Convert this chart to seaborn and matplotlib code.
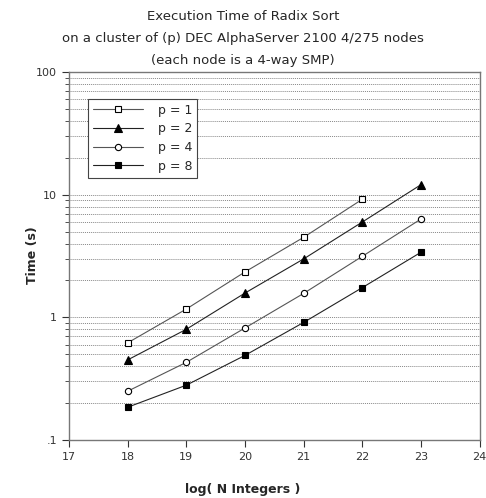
import numpy as np
import pandas as pd
import matplotlib
matplotlib.use("Agg")
import matplotlib.pyplot as plt
import seaborn as sns
from matplotlib.ticker import FixedLocator, FixedFormatter, NullFormatter

log_n = [18, 19, 20, 21, 22, 23]
p1 = [0.62, 1.17, 2.35, 4.5, 9.2]
p2 = [0.45, 0.80, 1.58, 3.0, 6.0, 12.1]
p4 = [0.25, 0.43, 0.82, 1.57, 3.15, 6.35]
p8 = [0.185, 0.28, 0.49, 0.91, 1.75, 3.4]
series_labels = ["p = 1", "p = 2", "p = 4", "p = 8"]

rows = []
for lab, vals in zip(series_labels, [p1, p2, p4, p8]):
    for x, v in zip(log_n, vals):
        rows.append({"logN": x, "time": v, "series": lab})
df = pd.DataFrame(rows)

sns.set_style("white")
plt.rcParams['font.family'] = ['DejaVu Sans']

fig = plt.figure(figsize=(4.86, 4.98), dpi=100)
ax = fig.add_axes([0.142, 0.1165, 0.845, 0.7385])

styles = {
    "p = 1": dict(marker="s", markerfacecolor="white", color="#555555", markersize=4.5),
    "p = 2": dict(marker="^", markerfacecolor="black", color="#222222", markersize=6),
    "p = 4": dict(marker="o", markerfacecolor="white", color="#555555", markersize=4.5),
    "p = 8": dict(marker="s", markerfacecolor="black", color="#222222", markersize=4.5),
}
for lab in series_labels:
    st = styles[lab]
    sub = df[df["series"] == lab]
    sns.lineplot(data=sub, x="logN", y="time", ax=ax, label=lab,
                 marker=st["marker"], markerfacecolor=st["markerfacecolor"],
                 markeredgecolor="black", markeredgewidth=0.8,
                 markersize=st["markersize"], color=st["color"], linewidth=0.8)

ax.set_yscale("log")
ax.set_xlim(17, 24)
ax.set_ylim(0.1, 100)
ax.set_xticks(range(17, 25))
ax.set_xticklabels([str(i) for i in range(17, 25)], fontsize=8, color="#333333")
ax.yaxis.set_major_locator(FixedLocator([0.1, 1, 10, 100]))
ax.yaxis.set_major_formatter(FixedFormatter([".1", "1", "10", "100"]))
minors = [m * 10.0 ** e for e in (-1, 0, 1) for m in range(2, 10)]
ax.yaxis.set_minor_locator(FixedLocator(minors))
ax.yaxis.set_minor_formatter(NullFormatter())
ax.tick_params(axis="y", which="major", labelsize=8, labelcolor="#333333",
               left=True, length=5, width=0.8, color="#333333", direction="out")
ax.tick_params(axis="y", which="minor", left=True, length=3, width=0.6, color="#333333")
ax.tick_params(axis="x", bottom=True, length=5, width=0.8, color="#333333", direction="out")

ax.grid(True, which="both", axis="y", linestyle=(0, (1, 1)), color="#888888", linewidth=0.7)
ax.grid(False, axis="x")
for s in ax.spines.values():
    s.set_color("#777777")
    s.set_linewidth(1.0)

ax.set_xlabel("")
ax.set_ylabel("")
fig.text(0.5, 0.018, "log( N Integers )", ha="center", va="center", fontsize=9, fontweight="bold")
fig.text(0.066, 0.488, "Time (s)", ha="center", va="center", rotation=90, fontsize=9, fontweight="bold")

fig.text(0.5, 0.967, "Execution Time of Radix Sort", ha="center", va="center", fontsize=9.5)
fig.text(0.5, 0.923, "on a cluster of (p) DEC AlphaServer 2100 4/275 nodes", ha="center", va="center", fontsize=9.5)
fig.text(0.5, 0.879, "(each node is a 4-way SMP)", ha="center", va="center", fontsize=9.5)

leg = ax.legend(loc="upper left", bbox_to_anchor=(0.03, 0.945), fontsize=9,
                frameon=True, fancybox=False, edgecolor="#444444", framealpha=1,
                borderpad=0.4, handlelength=4, labelspacing=0.45, handletextpad=1.2)
leg.get_frame().set_linewidth(0.8)

fig.savefig("out.png", dpi=100)
